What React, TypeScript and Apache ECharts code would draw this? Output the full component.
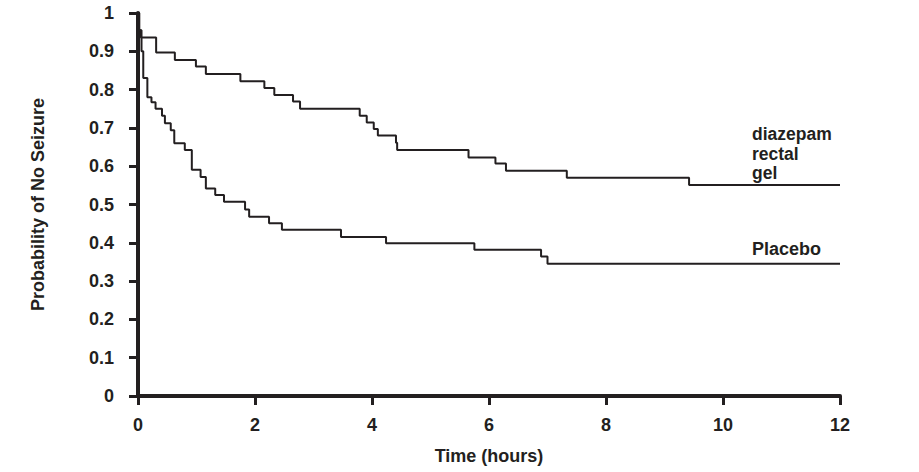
import React, { useEffect, useRef } from "react";
import * as echarts from "echarts";

const xTicks = [0, 2, 4, 6, 8, 10, 12];
const yTicks = [0, 0.1, 0.2, 0.3, 0.4, 0.5, 0.6, 0.7, 0.8, 0.9, 1];

const diazepamTimes = [0, 0.02, 0.05, 0.31, 0.63, 0.99, 1.16, 1.75, 2.16, 2.33, 2.65, 2.77, 3.79, 3.91, 4.03, 4.1, 4.41, 4.43, 5.65, 6.11, 6.29, 7.33, 9.42, 12];
const diazepamValues = [1, 0.955, 0.936, 0.897, 0.877, 0.86, 0.841, 0.822, 0.804, 0.786, 0.769, 0.75, 0.732, 0.714, 0.697, 0.68, 0.661, 0.642, 0.623, 0.607, 0.588, 0.57, 0.551, 0.551];

const placeboTimes = [0, 0.02, 0.06, 0.09, 0.16, 0.23, 0.3, 0.41, 0.46, 0.56, 0.62, 0.8, 0.92, 1.07, 1.16, 1.32, 1.47, 1.83, 1.9, 2.24, 2.46, 3.47, 4.24, 5.75, 6.89, 7.0, 12];
const placeboValues = [1, 0.955, 0.9, 0.83, 0.78, 0.767, 0.75, 0.732, 0.712, 0.694, 0.66, 0.642, 0.591, 0.572, 0.542, 0.525, 0.507, 0.487, 0.468, 0.451, 0.434, 0.415, 0.399, 0.382, 0.364, 0.345, 0.345];

const diazepamLabelLines = ["diazepam", "rectal", "gel"];
const placeboLabel = "Placebo";
const xName = "Time (hours)";
const yName = "Probability of No Seizure";

const INK = "#231f20";
const FONT = "'Liberation Sans', Arial, Helvetica, sans-serif";
const FS = 18;
const LABEL_FS = 17.5;

export default function App() {
  const ref = useRef<HTMLDivElement>(null);
  useEffect(() => {
    if (!ref.current) return;
    const chart = echarts.init(ref.current, undefined, { renderer: "svg" });
    const pair = (xs: number[], ys: number[]) => xs.map((x, i) => [x, ys[i]]);
    chart.setOption({
      animation: false,
      backgroundColor: "#ffffff",
      textStyle: { fontFamily: FONT },
      grid: { left: 138, right: 79, top: 13, bottom: 76 },
      xAxis: {
        type: "value",
        min: xTicks[0],
        max: xTicks[xTicks.length - 1],
        interval: 2,
        name: xName,
        nameLocation: "middle",
        nameGap: 51,
        nameTextStyle: { color: INK, fontSize: FS, fontWeight: "bold", fontFamily: FONT },
        axisLine: { lineStyle: { color: INK, width: 4 } },
        axisTick: { show: true, length: 9, lineStyle: { color: INK, width: 3 } },
        axisLabel: { color: INK, fontSize: FS, fontWeight: "bold", margin: 20, fontFamily: FONT },
        splitLine: { show: false },
      },
      yAxis: {
        type: "value",
        min: yTicks[0],
        max: yTicks[yTicks.length - 1],
        interval: 0.1,
        name: yName,
        nameLocation: "middle",
        nameGap: 91,
        nameRotate: 90,
        nameTextStyle: { color: INK, fontSize: FS, fontWeight: "bold", fontFamily: FONT },
        axisLine: { show: true, lineStyle: { color: INK, width: 4 } },
        axisTick: { show: true, length: 9, lineStyle: { color: INK, width: 3 } },
        axisLabel: {
          color: INK,
          fontSize: FS,
          fontWeight: "bold",
          margin: 24,
          fontFamily: FONT,
          formatter: (v: number) => String(Math.round(v * 10) / 10),
        },
        splitLine: { show: false },
      },
      series: [
        {
          name: "diazepam rectal gel",
          type: "line",
          step: "end",
          showSymbol: false,
          symbol: "none",
          lineStyle: { color: INK, width: 2 },
          data: pair(diazepamTimes, diazepamValues),
        },
        {
          name: "Placebo",
          type: "line",
          step: "end",
          showSymbol: false,
          symbol: "none",
          lineStyle: { color: INK, width: 2 },
          data: pair(placeboTimes, placeboValues),
        },
      ],
      graphic: [
        ...diazepamLabelLines.map((line, i) => ({
          type: "text",
          left: 752,
          top: 124.8 + i * 19.8,
          style: {
            text: line,
            fill: INK,
            font: `bold ${LABEL_FS}px ${FONT}`,
          },
        })),
        {
          type: "text",
          left: 752,
          top: 240,
          style: {
            text: placeboLabel,
            fill: INK,
            font: `bold ${FS}px ${FONT}`,
          },
        },
      ],
    });
    return () => chart.dispose();
  }, []);
  return (
    <div
      ref={ref}
      style={{ position: "absolute", left: 0, top: 0, width: 919, height: 472 }}
    />
  );
}
